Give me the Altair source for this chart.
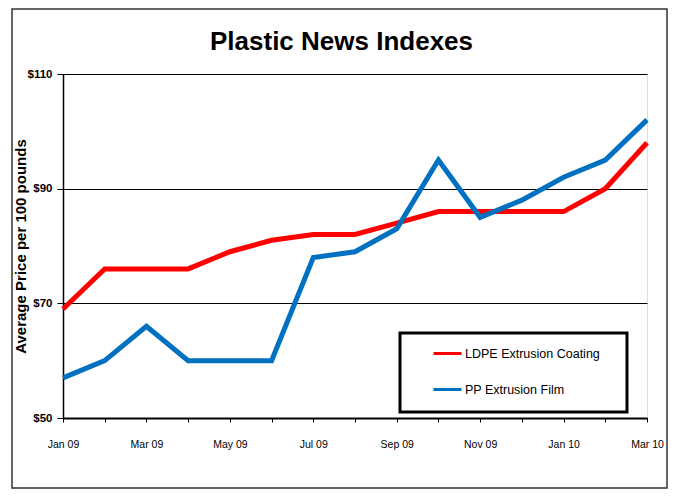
import altair as alt
import pandas as pd

months = ["Jan 09", "Feb 09", "Mar 09", "Apr 09", "May 09", "Jun 09", "Jul 09",
          "Aug 09", "Sep 09", "Oct 09", "Nov 09", "Dec 09", "Jan 10", "Feb 10", "Mar 10"]
labeled_months = ["Jan 09", "Mar 09", "May 09", "Jul 09", "Sep 09", "Nov 09", "Jan 10", "Mar 10"]
ldpe = [69, 76, 76, 76, 79, 81, 82, 82, 84, 86, 86, 86, 86, 90, 98]
pp = [57, 60, 66, 60, 60, 60, 78, 79, 83, 95, 85, 88, 92, 95, 102]
series_names = ["LDPE Extrusion Coating", "PP Extrusion Film"]
series_colors = ["#FF0000", "#0070C0"]
y_ticks = [50, 70, 90, 110]

rows = []
for name, vals in zip(series_names, [ldpe, pp]):
    for m, v in zip(months, vals):
        rows.append({"month": m, "price": v, "series": name})
df = pd.DataFrame(rows)

FONT = "Liberation Sans, Arial, Helvetica, sans-serif"
label_expr = "indexof(" + str(labeled_months) + ", datum.value) >= 0 ? datum.value : ''"

lines = alt.Chart(df).mark_line(strokeWidth=5, strokeJoin="miter").encode(
    x=alt.X("month:N", sort=months,
            scale=alt.Scale(type="point", padding=0),
            axis=alt.Axis(title=None, labelAngle=0, labelExpr=label_expr,
                          labelFont=FONT, labelFontSize=10.5, labelColor="black",
                          labelPadding=17, tickSize=4, tickColor="black",
                          domainColor="black", domainWidth=2, grid=False)),
    y=alt.Y("price:Q", scale=alt.Scale(domain=[50, 110], nice=False, zero=False),
            axis=alt.Axis(title="Average Price per 100 pounds", values=y_ticks,
                          format="$.0f", labelFont=FONT, labelFontSize=11.5,
                          labelFontWeight="bold", labelColor="black", labelPadding=5,
                          tickSize=6, tickColor="black", domainColor="black",
                          domainWidth=1.5, grid=True, gridColor="black", gridWidth=1,
                          titleFont=FONT, titleFontSize=15,
                          titleFontWeight="bold", titleColor="black",
                          titleX=-43, titleY=172, titleAngle=270,
                          titleAlign="center", titleBaseline="middle")),
    color=alt.Color("series:N", sort=series_names,
                    scale=alt.Scale(domain=series_names, range=series_colors),
                    legend=alt.Legend(title=None, orient="none", legendX=369, legendY=264,
                                      symbolType="stroke", symbolSize=784,
                                      symbolStrokeWidth=3, labelFont=FONT,
                                      labelFontSize=12.5, labelColor="black",
                                      labelOffset=2, rowPadding=14, padding=0)),
)

legend_box = alt.Chart(pd.DataFrame({"k": [0]})).mark_rect(
    fill=None, stroke="black", strokeWidth=3
).encode(x=alt.value(337), x2=alt.value(564), y=alt.value(259), y2=alt.value(338))

frame = alt.Chart(pd.DataFrame({"k": [0]})).mark_rect(
    fill=None, stroke="#333333", strokeWidth=1.5
).encode(x=alt.value(-51), x2=alt.value(604), y=alt.value(-65), y2=alt.value(414))

chart = alt.layer(lines, legend_box, frame).properties(
    width=584, height=344,
    title=alt.TitleParams("Plastic News Indexes", font=FONT, fontSize=26,
                          fontWeight="bold", color="black", anchor="middle",
                          frame="bounds", baseline="alphabetic",
                          dx=2, dy=82, offset=14),
    autosize=alt.AutoSizeParams(type="none"),
    padding={"left": 55, "top": 66, "right": 21, "bottom": 71},
).configure_view(stroke=None).configure(background="white")

chart.save("out.html", embed_options={"renderer": "svg", "actions": False})
